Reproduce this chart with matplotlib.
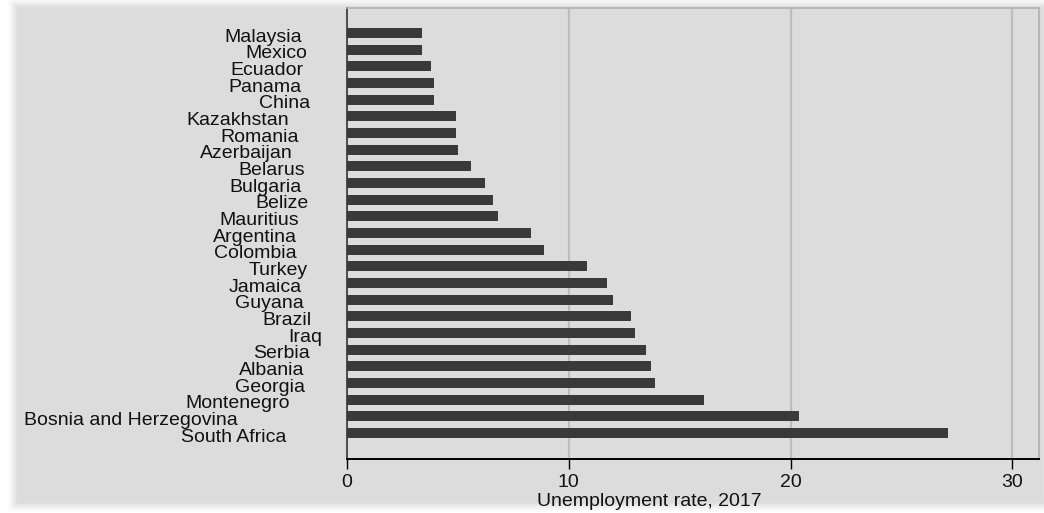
import matplotlib.pyplot as plt
import matplotlib.transforms as mtransforms
from matplotlib.patches import Rectangle

countries = ['Malaysia', 'Mexico', 'Ecuador', 'Panama', 'China', 'Kazakhstan',
             'Romania', 'Azerbaijan', 'Belarus', 'Bulgaria', 'Belize', 'Mauritius',
             'Argentina', 'Colombia', 'Turkey', 'Jamaica', 'Guyana', 'Brazil',
             'Iraq', 'Serbia', 'Albania', 'Georgia', 'Montenegro',
             'Bosnia and Herzegovina', 'South Africa']
unemployment = [3.4, 3.4, 3.8, 3.9, 3.9, 4.9, 4.9, 5.0, 5.6, 6.2, 6.6, 6.8,
                8.3, 8.9, 10.8, 11.7, 12.0, 12.8, 13.0, 13.5, 13.7, 13.9,
                16.1, 20.4, 27.1]
xticks = [0, 10, 20, 30]

# right edge of each country label (pixels), labels are staggered in the original
label_right = [302, 307, 303, 302, 310, 289, 299, 293, 305, 302, 309, 299,
               297, 297, 308, 302, 304, 312, 322, 310, 304, 305, 290, 238, 286]

W, H = 1044, 513
bg = '#dcdcdc'
txt = '#111111'
plt.rcParams['font.family'] = ['Liberation Sans', 'DejaVu Sans']
fig = plt.figure(figsize=(W / 100, H / 100), dpi=100)
fig.patch.set_facecolor('white')

# soft shadow + gray panel
for i, a in enumerate([0.03, 0.04, 0.05, 0.06, 0.08]):
    g = 10 - 2 * i
    fig.add_artist(Rectangle(((18 - g) / W, (11 - g) / H), (1024 + 2 * g) / W,
                             (494 + 2 * g) / H, transform=fig.transFigure,
                             facecolor='#808080', edgecolor='none', alpha=a, zorder=0))
fig.add_artist(Rectangle((18 / W, 11 / H), 1024 / W, 494 / H, transform=fig.transFigure,
                         facecolor=bg, edgecolor='none', zorder=0))

ax = fig.add_axes([347 / W, (H - 459) / H, (1039 - 347) / W, (459 - 8) / H])
ax.set_facecolor(bg)

y = list(range(len(countries)))
ax.barh(y, unemployment, height=0.6, color='#3a3a3a', zorder=3)
ax.set_ylim(len(countries) - 1 + 1.56, -1.5)
ax.set_xlim(0, 31.2)

ax.set_xticks(xticks)
ax.set_xticklabels([str(t) for t in xticks], fontsize=14, color=txt)
ax.tick_params(axis='x', length=7, width=1, color='black', pad=4)
ax.set_yticks([])
for t in xticks[1:]:
    ax.axvline(t, color='#bdbdbd', lw=1.6, zorder=1)

for side in ['top', 'right']:
    ax.spines[side].set_color('#b0b0b0')
    ax.spines[side].set_linewidth(1.2)
ax.spines['left'].set_color('#333333')
ax.spines['left'].set_linewidth(1.2)
ax.spines['bottom'].set_color('black')
ax.spines['bottom'].set_linewidth(1.4)

trans = mtransforms.blended_transform_factory(fig.transFigure, ax.transData)
trans = trans + mtransforms.ScaledTranslation(0, -8.5 / 100, fig.dpi_scale_trans)
for yi, name, xr in zip(y, countries, label_right):
    ax.text(xr / W, yi, name, transform=trans, ha='right', va='baseline',
            fontsize=14, color=txt, clip_on=False)

fig.text(537 / W, (H - 506) / H, 'Unemployment rate, 2017', ha='left', va='baseline',
         fontsize=14, color=txt)

plt.savefig('out.png', dpi=100, facecolor=fig.get_facecolor())
